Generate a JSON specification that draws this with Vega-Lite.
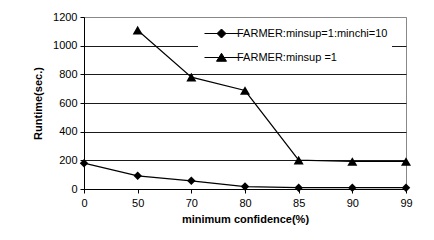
{
  "$schema": "https://vega.github.io/schema/vega-lite/v6.json",
  "width": 322,
  "height": 172,
  "autosize": {"type": "none"},
  "padding": {"left": 84, "top": 17, "right": 28, "bottom": 51},
  "background": "white",
  "config": {
    "font": "Liberation Sans",
    "view": {"stroke": "#888888", "strokeWidth": 1}
  },
  "data": {
    "values": [
      {"conf": "0", "series": "FARMER:minsup=1:minchi=10", "runtime": 180},
      {"conf": "50", "series": "FARMER:minsup=1:minchi=10", "runtime": 92},
      {"conf": "70", "series": "FARMER:minsup=1:minchi=10", "runtime": 57},
      {"conf": "80", "series": "FARMER:minsup=1:minchi=10", "runtime": 17},
      {"conf": "85", "series": "FARMER:minsup=1:minchi=10", "runtime": 9},
      {"conf": "90", "series": "FARMER:minsup=1:minchi=10", "runtime": 9},
      {"conf": "99", "series": "FARMER:minsup=1:minchi=10", "runtime": 9},
      {"conf": "50", "series": "FARMER:minsup =1", "runtime": 1108},
      {"conf": "70", "series": "FARMER:minsup =1", "runtime": 780},
      {"conf": "80", "series": "FARMER:minsup =1", "runtime": 687},
      {"conf": "85", "series": "FARMER:minsup =1", "runtime": 201},
      {"conf": "90", "series": "FARMER:minsup =1", "runtime": 192},
      {"conf": "99", "series": "FARMER:minsup =1", "runtime": 192}
    ]
  },
  "encoding": {
    "x": {
      "field": "conf", "type": "ordinal", "sort": null,
      "scale": {"type": "point", "padding": 0},
      "axis": {
        "title": "minimum confidence(%)", "titleFontSize": 11, "titleFontWeight": "bold", "titleColor": "black", "titlePadding": 5,
        "labelAngle": 0, "labelFontSize": 11, "labelColor": "black", "labelPadding": 4,
        "domainColor": "black", "tickColor": "black", "tickSize": 4, "grid": false
      }
    },
    "y": {
      "field": "runtime", "type": "quantitative",
      "scale": {"domain": [0, 1200]},
      "axis": {
        "title": "Runtime(sec.)", "titleFontSize": 11, "titleFontWeight": "bold", "titleColor": "black", "titlePadding": 9,
        "values": [0, 200, 400, 600, 800, 1000, 1200], "format": "d",
        "labelFontSize": 11, "labelColor": "black", "labelPadding": 3,
        "domainColor": "black", "tickColor": "black", "tickSize": 4,
        "grid": true,
        "gridColor": {"condition": {"test": "datum.value === 1200 || datum.value === 0", "value": "#888888"}, "value": "#1a1a1a"},
        "gridOpacity": 1
      }
    }
  },
  "layer": [
    {
      "mark": {"type": "line", "color": "black", "strokeWidth": 1.2},
      "encoding": {"detail": {"field": "series", "type": "nominal"}}
    },
    {
      "mark": {"type": "point", "filled": true, "color": "black", "opacity": 1},
      "encoding": {
        "shape": {"field": "series", "type": "nominal",
          "scale": {"domain": ["FARMER:minsup=1:minchi=10", "FARMER:minsup =1"], "range": ["diamond", "triangle-up"]},
          "legend": null},
        "size": {"field": "series", "type": "nominal",
          "scale": {"domain": ["FARMER:minsup=1:minchi=10", "FARMER:minsup =1"], "range": [72, 100]},
          "legend": null}
      }
    },
    {
      "mark": {"type": "point", "filled": false, "fill": "black", "stroke": "black", "strokeWidth": 1, "opacity": 0},
      "encoding": {
        "shape": {"field": "series", "type": "nominal",
          "scale": {"domain": ["FARMER:minsup=1:minchi=10", "FARMER:minsup =1"],
            "range": ["M-3.4,0L3.4,0M-0.9,0L0,-0.9L0.9,0L0,0.9Z", "M-3.4,0L3.4,0M0,-0.85L1,0.75L-1,0.75Z"]},
          "legend": {
            "title": null, "orient": "none", "legendX": 114, "legendY": 7,
            "symbolSize": 100, "symbolOffset": 14, "symbolOpacity": 1, "symbolStrokeWidth": 1,
            "labelFontSize": 11, "labelColor": "black", "labelOffset": 10, "labelLimit": 300,
            "fillColor": "white", "strokeColor": null, "padding": 4, "rowPadding": 11
          }}
      }
    }
  ],
  "resolve": {"scale": {"shape": "independent"}}
}
